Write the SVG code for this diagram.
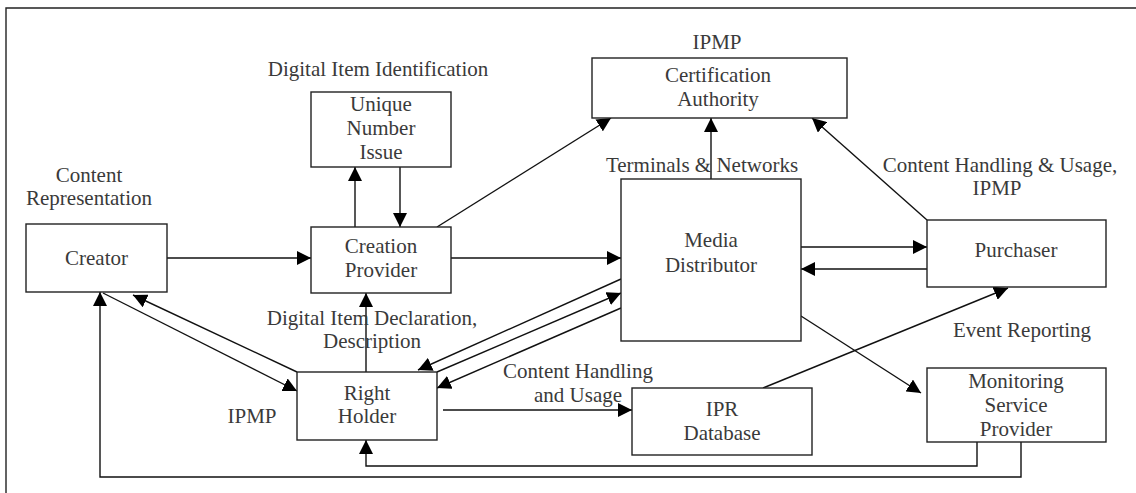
<svg xmlns="http://www.w3.org/2000/svg" width="1136" height="493" viewBox="0 0 1136 493">
<style>
.box{fill:#fff;stroke:#222;stroke-width:1.4}
.ln{fill:none;stroke:#111;stroke-width:1.4}
.t{font-family:"Liberation Serif","Times New Roman",serif;font-size:21px;fill:#3a3a3a;text-anchor:middle}
</style>
<defs>
<marker id="ah" markerUnits="userSpaceOnUse" markerWidth="15" markerHeight="14" refX="14" refY="7" orient="auto" viewBox="0 0 15 14">
<path d="M0,0 L14,7 L0,14 z" fill="#000"/>
</marker>
</defs>
<rect width="1136" height="493" fill="#fff"/>
<g id="frame"><path d="M6,493 V8 H1136" fill="none" stroke="#222" stroke-width="1.4"/></g>

<g id="connectors">
<line class="ln" x1="355" y1="227" x2="355" y2="167" marker-end="url(#ah)"/>
<line class="ln" x1="400" y1="167" x2="400" y2="227" marker-end="url(#ah)"/>
<line class="ln" x1="437" y1="227" x2="611" y2="118" marker-end="url(#ah)"/>
<line class="ln" x1="711" y1="179" x2="711" y2="118" marker-end="url(#ah)"/>
<line class="ln" x1="927" y1="220" x2="812" y2="118" marker-end="url(#ah)"/>
<line class="ln" x1="167" y1="258" x2="311" y2="258" marker-end="url(#ah)"/>
<line class="ln" x1="451" y1="258" x2="621" y2="258" marker-end="url(#ah)"/>
<line class="ln" x1="801" y1="247" x2="927" y2="247" marker-end="url(#ah)"/>
<line class="ln" x1="927" y1="269" x2="801" y2="269" marker-end="url(#ah)"/>
<line class="ln" x1="366" y1="372" x2="366" y2="293" marker-end="url(#ah)"/>
<line class="ln" x1="103" y1="293" x2="297" y2="391" marker-end="url(#ah)"/>
<line class="ln" x1="297" y1="372" x2="133" y2="295" marker-end="url(#ah)"/>
<line class="ln" x1="621" y1="279" x2="418" y2="370" marker-end="url(#ah)"/>
<line class="ln" x1="437" y1="372" x2="621" y2="293" marker-end="url(#ah)"/>
<line class="ln" x1="621" y1="308" x2="437" y2="388" marker-end="url(#ah)"/>
<line class="ln" x1="443" y1="410" x2="632" y2="410" marker-end="url(#ah)"/>
<line class="ln" x1="763" y1="388" x2="1008" y2="288" marker-end="url(#ah)"/>
<line class="ln" x1="801" y1="316" x2="921" y2="393" marker-end="url(#ah)"/>
<polyline class="ln" points="977,442 977,466 366,466 366,440" marker-end="url(#ah)"/>
<polyline class="ln" points="1021,442 1021,477 100,477 100,292" marker-end="url(#ah)"/>
</g>

<g id="unique-number-issue">
<rect class="box" x="311" y="92" width="140" height="75"/>
<text class="t" x="381" y="111">Unique</text>
<text class="t" x="381" y="135">Number</text>
<text class="t" x="381" y="159">Issue</text>
</g>
<g id="creation-provider">
<rect class="box" x="311" y="227" width="140" height="66"/>
<text class="t" x="381" y="253">Creation</text>
<text class="t" x="381" y="277">Provider</text>
</g>
<g id="creator">
<rect class="box" x="26" y="224" width="141" height="68"/>
<text class="t" x="96.5" y="265">Creator</text>
</g>
<g id="certification-authority">
<rect class="box" x="592" y="58" width="255" height="60"/>
<text class="t" x="718" y="82">Certification</text>
<text class="t" x="718" y="106">Authority</text>
</g>
<g id="media-distributor">
<rect class="box" x="621" y="179" width="180" height="162"/>
<text class="t" x="711" y="247">Media</text>
<text class="t" x="711" y="272">Distributor</text>
</g>
<g id="purchaser">
<rect class="box" x="927" y="220" width="179" height="67"/>
<text class="t" x="1016" y="257">Purchaser</text>
</g>
<g id="right-holder">
<rect class="box" x="297" y="372" width="140" height="68"/>
<text class="t" x="367" y="400">Right</text>
<text class="t" x="367" y="423">Holder</text>
</g>
<g id="ipr-database">
<rect class="box" x="632" y="388" width="180" height="67"/>
<text class="t" x="722" y="416">IPR</text>
<text class="t" x="722" y="440">Database</text>
</g>
<g id="monitoring-service-provider">
<rect class="box" x="927" y="368" width="179" height="74"/>
<text class="t" x="1016" y="388">Monitoring</text>
<text class="t" x="1016" y="412">Service</text>
<text class="t" x="1016" y="436">Provider</text>
</g>

<g id="labels">
<text class="t" x="378" y="76">Digital Item Identification</text>
<text class="t" x="717" y="49">IPMP</text>
<text class="t" x="89" y="182">Content</text>
<text class="t" x="89" y="205">Representation</text>
<text class="t" x="702" y="172">Terminals &amp; Networks</text>
<text class="t" x="1000" y="172">Content Handling &amp; Usage,</text>
<text class="t" x="997" y="195">IPMP</text>
<text class="t" x="372" y="325">Digital Item Declaration,</text>
<text class="t" x="372" y="348">Description</text>
<text class="t" x="252" y="423">IPMP</text>
<text class="t" x="578" y="378">Content Handling</text>
<text class="t" x="578" y="402">and Usage</text>
<text class="t" x="1022" y="337">Event Reporting</text>
</g>
</svg>
